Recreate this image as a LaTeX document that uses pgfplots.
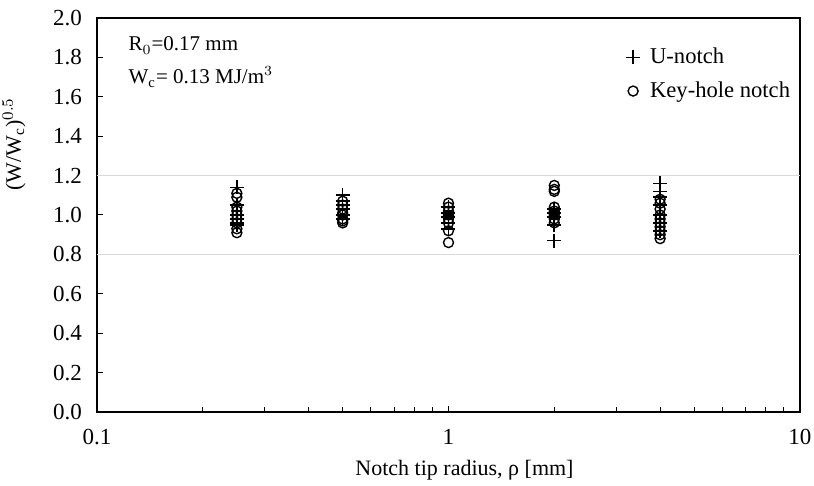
\documentclass[border=0pt]{standalone}
\usepackage{fontspec}
\setmainfont{Liberation Serif}
\usepackage{pgfplots}
\pgfplotsset{compat=1.18}
\begin{document}
\fontsize{10}{12}\selectfont
\begin{tikzpicture}
\begin{axis}[
  scale only axis,
  width=351.5pt, height=197pt,
  xmode=log, xmin=0.1, xmax=10,
  ymin=0, ymax=2.0,
  log basis x=10,
  xtick={0.1,1,10},
  xticklabels={0.1,1,10},
  minor xtick={0.2,0.3,0.4,0.5,0.6,0.7,0.8,0.9,2,3,4,5,6,7,8,9},
  ytick={0,0.2,...,2.0},
  tick label style={font=\fontsize{11.5}{13}\selectfont},
  y tick label style={xshift=-4pt, /pgf/number format/fixed, /pgf/number format/fixed zerofill, /pgf/number format/precision=1},
  /pgf/number format/assume math mode=true,
  tick align=inside,
  xtick pos=bottom, ytick pos=left,
  major tick length=3pt, minor tick length=2.5pt,
  tick style={black, line width=0.5pt},
  x tick label style={yshift=-5pt},
  axis line style={line width=1pt},
  extra y ticks={0.8,1.2},
  extra y tick labels={},
  extra y tick style={grid=major, major grid style={color=black!15, line width=0.6pt}, tick style={draw=none}},
  xlabel={Notch tip radius, ρ [mm]},
  ylabel={(W/W$_\mathrm{c}$)$^{0.5}$},
  xlabel style={yshift=-1pt, xshift=8pt, font=\fontsize{11}{13}\selectfont},
  every axis y label/.style={at={(rel axis cs:-0.118,0.68)}, rotate=90, anchor=center, font=\fontsize{11}{13}\selectfont},
  legend style={draw=none, fill=none, at={(rel axis cs:0.995,0.94)}, anchor=north east, row sep=3.5pt, inner sep=1pt, font=\fontsize{11.3}{13}\selectfont, /tikz/every odd column/.append style={column sep=3pt}},
  legend cell align=left,
]
\addplot[only marks, mark=+, mark size=3.5pt, mark options={line width=0.8pt, black}] coordinates {
  (0.25,1.14) (0.25,1.05) (0.25,1.00) (0.25,0.98) (0.25,0.96) (0.25,0.95)
  (0.5,1.10) (0.5,1.07) (0.5,1.05) (0.5,1.03) (0.5,1.00) (0.5,0.98)
  (1,1.04) (1,1.01) (1,0.99) (1,0.96) (1,0.93)
  (2,1.03) (2,1.01) (2,0.99) (2,0.95) (2,0.87)
  (4,1.16) (4,1.12) (4,1.09) (4,1.05) (4,1.00) (4,0.96) (4,0.92)
};
\addlegendentry{U-notch}
\addplot[only marks, mark=o, mark size=2.5pt, mark options={line width=0.7pt, black}] coordinates {
  (0.25,1.11) (0.25,1.09) (0.25,1.04) (0.25,1.02) (0.25,1.00) (0.25,0.98) (0.25,0.96) (0.25,0.93) (0.25,0.91)
  (0.5,1.07) (0.5,1.05) (0.5,1.03) (0.5,1.01) (0.5,1.00) (0.5,0.98) (0.5,0.97) (0.5,0.96)
  (1,1.06) (1,1.04) (1,1.02) (1,1.00) (1,0.98) (1,0.96) (1,0.92) (1,0.86)
  (2,1.15) (2,1.13) (2,1.12) (2,1.04) (2,1.02) (2,1.00) (2,0.98) (2,0.96)
  (4,1.08) (4,1.06) (4,1.03) (4,1.00) (4,0.98) (4,0.96) (4,0.94) (4,0.92) (4,0.90) (4,0.88)
};
\addlegendentry{Key-hole notch}
\node[anchor=west, font=\fontsize{10.5}{12}\selectfont] at (rel axis cs:0.035,0.93) {R$_0$=0.17 mm};
\node[anchor=west, font=\fontsize{10.5}{12}\selectfont] at (rel axis cs:0.035,0.85) {W$_\mathrm{c}$= 0.13 MJ/m$^3$};
\end{axis}
\pgfresetboundingbox
\path ([shift={(-48.5pt,-37pt)}]current axis.south west) rectangle ([shift={(7pt,9pt)}]current axis.north east);
\end{tikzpicture}
\end{document}
